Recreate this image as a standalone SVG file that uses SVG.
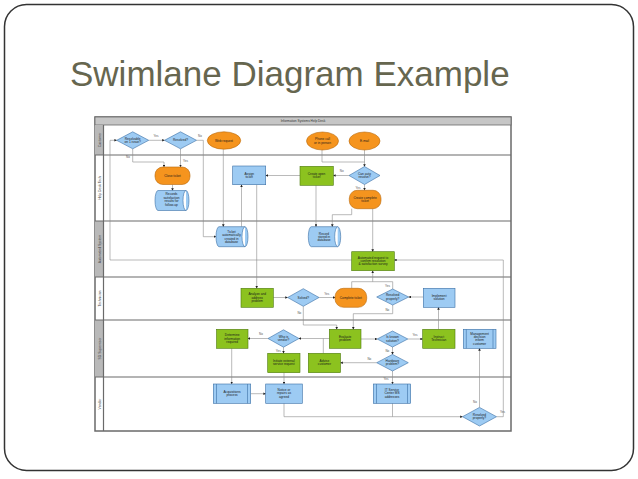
<svg xmlns="http://www.w3.org/2000/svg" width="638" height="479" viewBox="0 0 638 479">
<defs>
<style>
.t{font-family:"Liberation Sans",Arial,sans-serif;font-size:3.2px;fill:#1a1a1a;text-anchor:middle}
.lbl{font-family:"Liberation Sans",Arial,sans-serif;font-size:3px;fill:#555;text-anchor:middle}
.lane{font-family:"Liberation Sans",Arial,sans-serif;font-size:3.4px;fill:#444;text-anchor:middle}
.or{fill:#f5941e;stroke:#b8680a;stroke-width:0.6}
.bl{fill:#9dcbf3;stroke:#3a6ea5;stroke-width:0.6}
.gr{fill:#8cc21f;stroke:#4d7a0e;stroke-width:0.6}
.c path,.c line,.c polyline{fill:none;stroke:#8c8c8c;stroke-width:0.6}
.div{stroke:#6a6a6a;stroke-width:1.2}
</style>
<marker id="a" viewBox="0 0 10 10" refX="9" refY="5" markerWidth="2.6" markerHeight="2.6" markerUnits="userSpaceOnUse" orient="auto">
<path d="M0,0 L10,5 L0,10 Z" fill="#222"/>
</marker>
</defs>

<rect x="4.5" y="4.5" width="629" height="466" rx="22" fill="#fff" stroke="#333" stroke-width="1.5"/>
<text x="70" y="86" font-family="'Liberation Sans',Arial,sans-serif" font-size="35" fill="#66664f">Swimlane Diagram Example</text>

<g id="frame">
<rect x="95" y="117" width="416" height="314" fill="#fff" stroke="#6a6a6a" stroke-width="1.5"/>
<rect x="95" y="117" width="416" height="8" fill="#c6c6c6" stroke="#6a6a6a" stroke-width="0.8"/>
<text class="t" x="303" y="122.3" style="fill:#333">Information Systems Help Desk</text>
<rect x="95" y="125" width="8.5" height="30" fill="#b9b9b9"/>
<rect x="95" y="221" width="8.5" height="56" fill="#b9b9b9"/>
<rect x="95" y="320" width="8.5" height="57" fill="#b9b9b9"/>
<line x1="103.5" y1="125" x2="103.5" y2="431" class="div" stroke-width="0.8"/>
<line x1="95" y1="155" x2="511" y2="155" class="div"/>
<line x1="95" y1="221" x2="511" y2="221" class="div"/>
<line x1="95" y1="277" x2="511" y2="277" class="div"/>
<line x1="95" y1="320" x2="511" y2="320" class="div"/>
<line x1="95" y1="377" x2="511" y2="377" class="div"/>
<text class="lane" transform="translate(100.5,140) rotate(-90)">Customer</text>
<text class="lane" transform="translate(100.5,188) rotate(-90)">Help Desk Tech</text>
<text class="lane" transform="translate(100.5,249) rotate(-90)">Automated System</text>
<text class="lane" transform="translate(100.5,298.5) rotate(-90)">Technician</text>
<text class="lane" transform="translate(100.5,348.5) rotate(-90)">SD Supervisor</text>
<text class="lane" transform="translate(100.5,404) rotate(-90)">Vendor</text>
</g>

<g id="connectors" class="c">
<line x1="148.7" y1="140.3" x2="164.5" y2="140.3" marker-end="url(#a)"/>
<polyline points="196.5,140.3 203.3,140.3 203.3,236.7 216,236.7" marker-end="url(#a)"/>
<polyline points="132.7,148.8 132.7,162 164,162 164,167" marker-end="url(#a)"/>
<line x1="180.5" y1="148.8" x2="180.5" y2="167" marker-end="url(#a)"/>
<line x1="172.5" y1="184.5" x2="172.5" y2="190.5" marker-end="url(#a)"/>
<line x1="223.3" y1="149.2" x2="223.3" y2="226.7" marker-end="url(#a)"/>
<line x1="241.5" y1="226.7" x2="241.5" y2="184.7" marker-end="url(#a)"/>
<line x1="256.7" y1="184.7" x2="256.7" y2="288.3" marker-end="url(#a)"/>
<line x1="300" y1="175.5" x2="265.7" y2="175.5" marker-end="url(#a)"/>
<line x1="349" y1="175.5" x2="333.3" y2="175.5" marker-end="url(#a)"/>
<polyline points="322,150 322,162 364.5,162"/>
<line x1="364.5" y1="150" x2="364.5" y2="166.5" marker-end="url(#a)"/>
<line x1="364.5" y1="184.5" x2="364.5" y2="190.3" marker-end="url(#a)"/>
<line x1="316" y1="185.3" x2="316" y2="226.7" marker-end="url(#a)"/>
<polyline points="351.7,208.7 351.7,214.7 332.3,214.7 332.3,226.7" marker-end="url(#a)"/>
<line x1="372.7" y1="208.7" x2="372.7" y2="251.7" marker-end="url(#a)"/>
<polyline points="351.7,260 110,260 110,140.3 116.7,140.3" marker-end="url(#a)"/>
<polyline points="496.5,416.7 503.3,416.7 503.3,260 394.3,260" marker-end="url(#a)"/>
<polyline points="351.7,288.3 351.7,281.7 392.7,281.7 392.7,289"/>
<line x1="372.7" y1="281.7" x2="372.7" y2="270.7" marker-end="url(#a)"/>
<line x1="273.3" y1="297.5" x2="287.6" y2="297.5" marker-end="url(#a)"/>
<line x1="319" y1="297.5" x2="335" y2="297.5" marker-end="url(#a)"/>
<polyline points="303.3,306.3 303.3,325 336.7,325 336.7,329.3" marker-end="url(#a)"/>
<line x1="423.3" y1="297" x2="408.7" y2="297" marker-end="url(#a)"/>
<polyline points="392.7,305 392.7,313.7 353.3,313.7 353.3,329.3" marker-end="url(#a)"/>
<line x1="438.5" y1="329.3" x2="438.5" y2="307.3" marker-end="url(#a)"/>
<line x1="361" y1="339" x2="377.2" y2="339" marker-end="url(#a)"/>
<line x1="407.8" y1="339" x2="422.7" y2="339" marker-end="url(#a)"/>
<line x1="392.5" y1="347" x2="392.5" y2="354.4" marker-end="url(#a)"/>
<line x1="376.7" y1="362.7" x2="340.5" y2="362.7" marker-end="url(#a)"/>
<line x1="329.3" y1="338.5" x2="299" y2="338.5" marker-end="url(#a)"/>
<line x1="323.3" y1="353.3" x2="323.3" y2="338.5"/>
<line x1="268" y1="338.5" x2="248" y2="338.5" marker-end="url(#a)"/>
<line x1="283.5" y1="347.2" x2="283.5" y2="353.3" marker-end="url(#a)"/>
<line x1="231.7" y1="348.3" x2="231.7" y2="384" marker-end="url(#a)"/>
<line x1="284" y1="372.7" x2="284" y2="384" marker-end="url(#a)"/>
<line x1="250.7" y1="393.7" x2="265.7" y2="393.7" marker-end="url(#a)"/>
<polyline points="284,403.3 284,416.7 462.5,416.7" marker-end="url(#a)"/>
<line x1="392.5" y1="371" x2="392.5" y2="384" marker-end="url(#a)"/>
<line x1="392.5" y1="403.3" x2="392.5" y2="416.7"/>
<line x1="479.5" y1="407.4" x2="479.5" y2="348.3" marker-end="url(#a)"/>
<text class="lbl" x="156" y="137">Yes</text>
<text class="lbl" x="200" y="137">No</text>
<text class="lbl" x="128" y="158">No</text>
<text class="lbl" x="185.5" y="161.5">Yes</text>
<text class="lbl" x="341.7" y="172">No</text>
<text class="lbl" x="358" y="188.5">Yes</text>
<text class="lbl" x="387.5" y="286.5">Yes</text>
<text class="lbl" x="326.7" y="294.5">Yes</text>
<text class="lbl" x="299.3" y="313.5">No</text>
<text class="lbl" x="387.3" y="310.5">No</text>
<text class="lbl" x="415" y="336">Yes</text>
<text class="lbl" x="387.3" y="352">No</text>
<text class="lbl" x="369.3" y="360">No</text>
<text class="lbl" x="261" y="335">No</text>
<text class="lbl" x="278.3" y="351.8">Yes</text>
<text class="lbl" x="386" y="380">Yes</text>
<text class="lbl" x="475" y="402.5">No</text>
<text class="lbl" x="502.5" y="413">Yes</text>
</g>

<g id="n-resolvable"><polygon class="bl" points="116.7,140.3 132.7,131.8 148.7,140.3 132.7,148.8"/><text class="t" x="132.7" y="139.6">Resolvable<tspan x="132.7" dy="3.4">on 1 issue?</tspan></text></g>
<g id="n-resolved"><polygon class="bl" points="164.5,140.3 180.5,131.8 196.5,140.3 180.5,148.8"/><text class="t" x="180.5" y="141.3">Resolved?</text></g>
<g id="n-web"><ellipse class="or" cx="224" cy="140.5" rx="16.7" ry="8.7"/><text class="t" x="224" y="141.5">Web request</text></g>
<g id="n-phone"><ellipse class="or" cx="322.5" cy="141" rx="16" ry="9"/><text class="t" x="322.5" y="140.3">Phone call<tspan x="322.5" dy="3.4">or in person</tspan></text></g>
<g id="n-email"><ellipse class="or" cx="364.5" cy="141" rx="15.5" ry="9"/><text class="t" x="364.5" y="142">E-mail</text></g>

<g id="n-close"><rect class="or" x="155" y="167" width="35" height="17.5" rx="8"/><text class="t" x="172.5" y="176.8">Close ticket</text></g>
<g id="n-records"><path class="bl" d="M158,190.5 H186 A3,10 0 0 1 186,210.5 H158 A3,10 0 0 1 158,190.5 Z M186,190.5 A3,10 0 0 0 186,210.5"/><text class="t" x="171.5" y="195.3">Records<tspan x="171.5" dy="3.4">satisfaction</tspan><tspan x="171.5" dy="3.4">results for</tspan><tspan x="171.5" dy="3.4">follow-up</tspan></text></g>
<g id="n-assign"><rect class="bl" x="232.7" y="166" width="33" height="18.7"/><text class="t" x="249.2" y="174.8">Assign<tspan x="249.2" dy="3.4">ticket</tspan></text></g>
<g id="n-openticket"><rect class="gr" x="300" y="166.3" width="33.3" height="19"/><text class="t" x="316.6" y="175">Create open<tspan x="316.6" dy="3.4">ticket</tspan></text></g>
<g id="n-autoresolve"><polygon class="bl" points="349,175.5 364.5,166.5 380,175.5 364.5,184.5"/><text class="t" x="364.5" y="174.8">Can auto<tspan x="364.5" dy="3.4">resolve?</tspan></text></g>
<g id="n-completeticket"><rect class="or" x="349.3" y="190.3" width="31.7" height="18.4" rx="8"/><text class="t" x="365.1" y="198.8">Create complete<tspan x="365.1" dy="3.4">ticket</tspan></text></g>

<g id="n-autocreated"><path class="bl" d="M219,226.7 H245 A3,10 0 0 1 245,246.7 H219 A3,10 0 0 1 219,226.7 Z M245,226.7 A3,10 0 0 0 245,246.7"/><text class="t" x="231.5" y="232.8">Ticket<tspan x="231.5" dy="3.4">automatically</tspan><tspan x="231.5" dy="3.4">created in</tspan><tspan x="231.5" dy="3.4">database</tspan></text></g>
<g id="n-stored"><path class="bl" d="M311.3,226.7 H337.7 A3,10 0 0 1 337.7,246.7 H311.3 A3,10 0 0 1 311.3,226.7 Z M337.7,226.7 A3,10 0 0 0 337.7,246.7"/><text class="t" x="324" y="234.5">Record<tspan x="324" dy="3.4">stored in</tspan><tspan x="324" dy="3.4">database</tspan></text></g>
<g id="n-survey"><rect class="gr" x="351.7" y="251.7" width="42.6" height="19"/><text class="t" x="373" y="258.6">Automated request to<tspan x="373" dy="3.4">confirm resolution</tspan><tspan x="373" dy="3.4">&amp; satisfaction survey</tspan></text></g>

<g id="n-analyze"><rect class="gr" x="241" y="288.3" width="32.3" height="19"/><text class="t" x="257.2" y="295.3">Analyze and<tspan x="257.2" dy="3.4">address</tspan><tspan x="257.2" dy="3.4">problem</tspan></text></g>
<g id="n-solved"><polygon class="bl" points="287.6,297.5 303.3,288.7 319,297.5 303.3,306.3"/><text class="t" x="303.3" y="298.5">Solved?</text></g>
<g id="n-complete"><rect class="or" x="335" y="288.3" width="31.7" height="19" rx="8.5"/><text class="t" x="350.8" y="298.9">Complete ticket</text></g>
<g id="n-resolvedproperly1"><polygon class="bl" points="376.7,297 392.7,289 408.7,297 392.7,305"/><text class="t" x="392.7" y="296.3">Resolved<tspan x="392.7" dy="3.4">properly?</tspan></text></g>
<g id="n-implement"><rect class="bl" x="423.3" y="288.3" width="31.7" height="19"/><text class="t" x="439.1" y="297">Implement<tspan x="439.1" dy="3.4">solution</tspan></text></g>

<g id="n-determine"><rect class="gr" x="216.5" y="329.3" width="31.5" height="19"/><text class="t" x="232.2" y="336.3">Determine<tspan x="232.2" dy="3.4">information</tspan><tspan x="232.2" dy="3.4">required</tspan></text></g>
<g id="n-whovendor"><polygon class="bl" points="268,338.5 283.5,329.8 299,338.5 283.5,347.2"/><text class="t" x="283.5" y="337.8">Who is<tspan x="283.5" dy="3.4">vendor?</tspan></text></g>
<g id="n-initiate"><rect class="gr" x="267.7" y="353.3" width="32.3" height="19.4"/><text class="t" x="283.8" y="362">Initiate external<tspan x="283.8" dy="3.4">service request</tspan></text></g>
<g id="n-advise"><rect class="gr" x="308.3" y="353.3" width="32.2" height="19.4"/><text class="t" x="324.4" y="362">Advise<tspan x="324.4" dy="3.4">customer</tspan></text></g>
<g id="n-evaluate"><rect class="gr" x="329.3" y="329.3" width="31.7" height="19"/><text class="t" x="345.1" y="338">Evaluate<tspan x="345.1" dy="3.4">problem</tspan></text></g>
<g id="n-known"><polygon class="bl" points="377.2,339 392.5,331 407.8,339 392.5,347"/><text class="t" x="392.5" y="338.3">Is known<tspan x="392.5" dy="3.4">solution?</tspan></text></g>
<g id="n-instruct"><rect class="gr" x="422.7" y="329.3" width="32.3" height="19"/><text class="t" x="438.8" y="338">Instruct<tspan x="438.8" dy="3.4">Technician</tspan></text></g>
<g id="n-hardware"><polygon class="bl" points="376.7,362.7 392.5,354.4 408.3,362.7 392.5,371"/><text class="t" x="392.5" y="362">Hardware<tspan x="392.5" dy="3.4">problem?</tspan></text></g>
<g id="n-mgmt"><rect class="bl" x="463.3" y="329.3" width="32.7" height="19"/><line x1="466.3" y1="329.3" x2="466.3" y2="348.3" stroke="#3a6ea5" stroke-width="0.6"/><line x1="493" y1="329.3" x2="493" y2="348.3" stroke="#3a6ea5" stroke-width="0.6"/><text class="t" x="479.6" y="334.6">Management<tspan x="479.6" dy="3.4">decision</tspan><tspan x="479.6" dy="3.4">inform</tspan><tspan x="479.6" dy="3.4">customer</tspan></text></g>

<g id="n-acquisitions"><rect class="bl" x="213.3" y="384" width="37.4" height="19.3"/><line x1="216.5" y1="384" x2="216.5" y2="403.3" stroke="#3a6ea5" stroke-width="0.6"/><line x1="247.5" y1="384" x2="247.5" y2="403.3" stroke="#3a6ea5" stroke-width="0.6"/><text class="t" x="232" y="392.7">Acquisitions<tspan x="232" dy="3.4">process</tspan></text></g>
<g id="n-notice"><rect class="bl" x="265.7" y="384" width="36.6" height="19.3"/><text class="t" x="284" y="391">Notice or<tspan x="284" dy="3.4">repairs as</tspan><tspan x="284" dy="3.4">agreed</tspan></text></g>
<g id="n-itservice"><rect class="bl" x="373.3" y="384" width="37.4" height="19.3"/><line x1="376.5" y1="384" x2="376.5" y2="403.3" stroke="#3a6ea5" stroke-width="0.6"/><line x1="407.5" y1="384" x2="407.5" y2="403.3" stroke="#3a6ea5" stroke-width="0.6"/><text class="t" x="392" y="391">IT Service<tspan x="392" dy="3.4">Center MS</tspan><tspan x="392" dy="3.4">addresses</tspan></text></g>
<g id="n-resolvedproperly2"><polygon class="bl" points="462.5,416.7 479.5,407.4 496.5,416.7 479.5,426"/><text class="t" x="479.5" y="416">Resolved<tspan x="479.5" dy="3.4">properly?</tspan></text></g>
</svg>
